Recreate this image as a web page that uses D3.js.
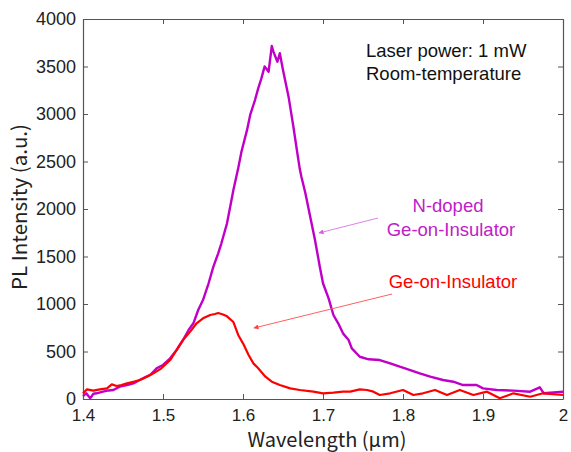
<!DOCTYPE html>
<html>
<head>
<meta charset="utf-8">
<script src="https://cdn.jsdelivr.net/npm/d3@7"></script>
<style>
  body { margin: 0; background: #fff; }
  svg { display: block; }
</style>
</head>
<body>
<div id="chart"></div>
<script>
// N-doped Ge-on-Insulator (purple)
var ndWl = [1.400, 1.404, 1.409, 1.413, 1.417, 1.425, 1.432, 1.438, 1.446, 1.455, 1.463, 1.471, 1.478, 1.484,
    1.492, 1.500, 1.509, 1.517, 1.525, 1.532, 1.538, 1.544, 1.550, 1.557, 1.563, 1.569, 1.573, 1.580, 1.584,
    1.588, 1.594, 1.598, 1.605, 1.609, 1.615, 1.619, 1.623, 1.627, 1.632, 1.636, 1.638, 1.643, 1.646, 1.650,
    1.657, 1.663, 1.667, 1.671, 1.673, 1.678, 1.684, 1.690, 1.696, 1.700, 1.707, 1.713, 1.719, 1.725, 1.732,
    1.736, 1.746, 1.757, 1.771, 1.784, 1.796, 1.809, 1.821, 1.834, 1.850, 1.863, 1.875, 1.892, 1.900, 1.917,
    1.938, 1.959, 1.971, 1.976, 2.000];
var ndPL = [30, 60, 7, 55, 60, 77, 90, 95, 130, 147, 165, 200, 230, 253,
    323, 358, 428, 516, 621, 726, 797, 937, 1042, 1218, 1393, 1533, 1639, 1849, 2024,
    2200, 2430, 2600, 2830, 2990, 3147, 3270, 3375, 3500, 3445, 3716, 3656, 3550, 3640, 3463,
    3180, 2866, 2640, 2420, 2340, 2165, 1919, 1673, 1393, 1218, 1060, 884, 797, 691, 621,
    533, 445, 418, 410, 375, 340, 305, 270, 235, 200, 182, 147, 147, 112, 95,
    88, 77, 123, 60, 77];

// Ge-on-Insulator (red)
var geWl = [1.400, 1.405, 1.413, 1.421, 1.430, 1.436, 1.442, 1.448, 1.455, 1.463, 1.471, 1.480, 1.488, 1.498,
    1.509, 1.517, 1.525, 1.534, 1.542, 1.550, 1.559, 1.565, 1.569, 1.575, 1.580, 1.588, 1.594, 1.600, 1.607,
    1.613, 1.619, 1.628, 1.636, 1.646, 1.659, 1.671, 1.688, 1.700, 1.713, 1.725, 1.734, 1.746, 1.755, 1.763,
    1.771, 1.784, 1.800, 1.813, 1.825, 1.840, 1.855, 1.871, 1.888, 1.905, 1.921, 1.938, 1.959, 1.975, 2.000];
var gePL = [60, 102, 88, 102, 112, 154, 137, 147, 165, 182, 200, 235, 270, 323,
    410, 516, 621, 709, 797, 849, 884, 895, 905, 890, 870, 810, 674, 586, 463,
    375, 323, 235, 182, 147, 112, 95, 77, 60, 67, 77, 77, 102, 95, 77,
    42, 60, 95, 42, 60, 95, 42, 95, 42, 77, 7, 60, 24, 60, 42];

var xTicks = [1.4, 1.5, 1.6, 1.7, 1.8, 1.9, 2];
var yTicks = [0, 500, 1000, 1500, 2000, 2500, 3000, 3500, 4000];

var totalWidth = 571, totalHeight = 452;
var margin = { top: 19, right: 8, bottom: 53, left: 83 };
var width = totalWidth - margin.left - margin.right;
var height = totalHeight - margin.top - margin.bottom;

var svg = d3.select('#chart').append('svg')
    .attr('width', totalWidth)
    .attr('height', totalHeight);
var g = svg.append('g').attr('transform', 'translate(' + margin.left + ',' + margin.top + ')');

var xScale = d3.scaleLinear().domain([1.4, 2]).range([0, width]);
var yScale = d3.scaleLinear().domain([0, 4000]).range([height, 0]);

var tickFont = 'Liberation Sans, Arial, Helvetica, sans-serif';
var axisColor = '#555';

function styleAxis(sel, fontSize) {
    sel.selectAll('path').attr('stroke', axisColor).attr('stroke-width', 1.2);
    sel.selectAll('line').attr('stroke', axisColor);
    sel.selectAll('text').attr('fill', '#222').attr('font-size', fontSize).attr('font-family', tickFont);
}

var xAxis = d3.axisBottom(xScale).tickValues(xTicks).tickFormat(d3.format('')).tickSizeInner(-5).tickSizeOuter(0).tickPadding(10);
var yAxis = d3.axisLeft(yScale).tickValues(yTicks).tickFormat(d3.format('d')).tickSizeInner(-5).tickSizeOuter(0).tickPadding(7);
var xTop = d3.axisTop(xScale).tickValues(xTicks).tickFormat('').tickSizeInner(-5).tickSizeOuter(0);
var yRight = d3.axisRight(yScale).tickValues(yTicks).tickFormat('').tickSizeInner(-5).tickSizeOuter(0);

styleAxis(g.append('g').attr('transform', 'translate(0,' + height + ')').call(xAxis), 17);
styleAxis(g.append('g').call(yAxis), 18);
styleAxis(g.append('g').call(xTop), 17);
styleAxis(g.append('g').attr('transform', 'translate(' + width + ',0)').call(yRight), 17);

var line = d3.line()
    .x(d => xScale(d[0]))
    .y(d => yScale(d[1]));

var ndData = ndWl.map((w, i) => [w, ndPL[i]]);
var geData = geWl.map((w, i) => [w, gePL[i]]);

g.append('path').datum(ndData)
    .attr('d', line)
    .attr('fill', 'none')
    .attr('stroke', '#c000c8')
    .attr('stroke-width', 2.4)
    .attr('stroke-linejoin', 'round');

g.append('path').datum(geData)
    .attr('d', line)
    .attr('fill', 'none')
    .attr('stroke', '#ff0000')
    .attr('stroke-width', 2.2)
    .attr('stroke-linejoin', 'round');

// arrows
var defs = svg.append('defs');
function marker(id, color) {
    defs.append('marker').attr('id', id)
        .attr('viewBox', '0 0 10 10').attr('refX', 9).attr('refY', 5)
        .attr('markerWidth', 7).attr('markerHeight', 5).attr('orient', 'auto')
        .attr('markerUnits', 'userSpaceOnUse')
        .append('path').attr('d', 'M0,0 L10,5 L0,10 z').attr('fill', color);
}
marker('arrowP', '#d060dc');
marker('arrowR', '#ff4040');

svg.append('line')
    .attr('x1', 378).attr('y1', 218).attr('x2', 319).attr('y2', 233)
    .attr('stroke', '#e080e8').attr('stroke-width', 1)
    .attr('marker-end', 'url(#arrowP)');
svg.append('line')
    .attr('x1', 392).attr('y1', 294).attr('x2', 254).attr('y2', 328)
    .attr('stroke', '#ff6060').attr('stroke-width', 1)
    .attr('marker-end', 'url(#arrowR)');

// annotations
var txt = svg.append('g').attr('font-family', tickFont).attr('font-size', 18.5);
txt.append('text').attr('x', 366).attr('y', 57).attr('fill', '#111').text('Laser power: 1 mW');
txt.append('text').attr('x', 366).attr('y', 80).attr('fill', '#111').text('Room-temperature');
txt.append('text').attr('x', 448).attr('y', 212).attr('text-anchor', 'middle').attr('fill', '#c020c8').text('N-doped');
txt.append('text').attr('x', 451).attr('y', 236).attr('text-anchor', 'middle').attr('fill', '#c020c8').text('Ge-on-Insulator');
txt.append('text').attr('x', 453).attr('y', 288).attr('text-anchor', 'middle').attr('fill', '#ff0000').text('Ge-on-Insulator');

// axis titles
var titleFont = '"Noto Sans CJK JP", "Noto Sans", sans-serif';
svg.append('text')
    .attr('x', margin.left + width / 2 + 4).attr('y', 447)
    .attr('text-anchor', 'middle')
    .attr('font-family', titleFont).attr('font-size', 20).attr('fill', '#222')
    .text('Wavelength (µm)');
svg.append('text')
    .attr('transform', 'translate(27,' + (margin.top + height / 2 - 2) + ') rotate(-90)')
    .attr('text-anchor', 'middle')
    .attr('font-family', titleFont).attr('font-size', 20.5).attr('fill', '#222')
    .text('PL Intensity (a.u.)');
</script>
</body>
</html>
